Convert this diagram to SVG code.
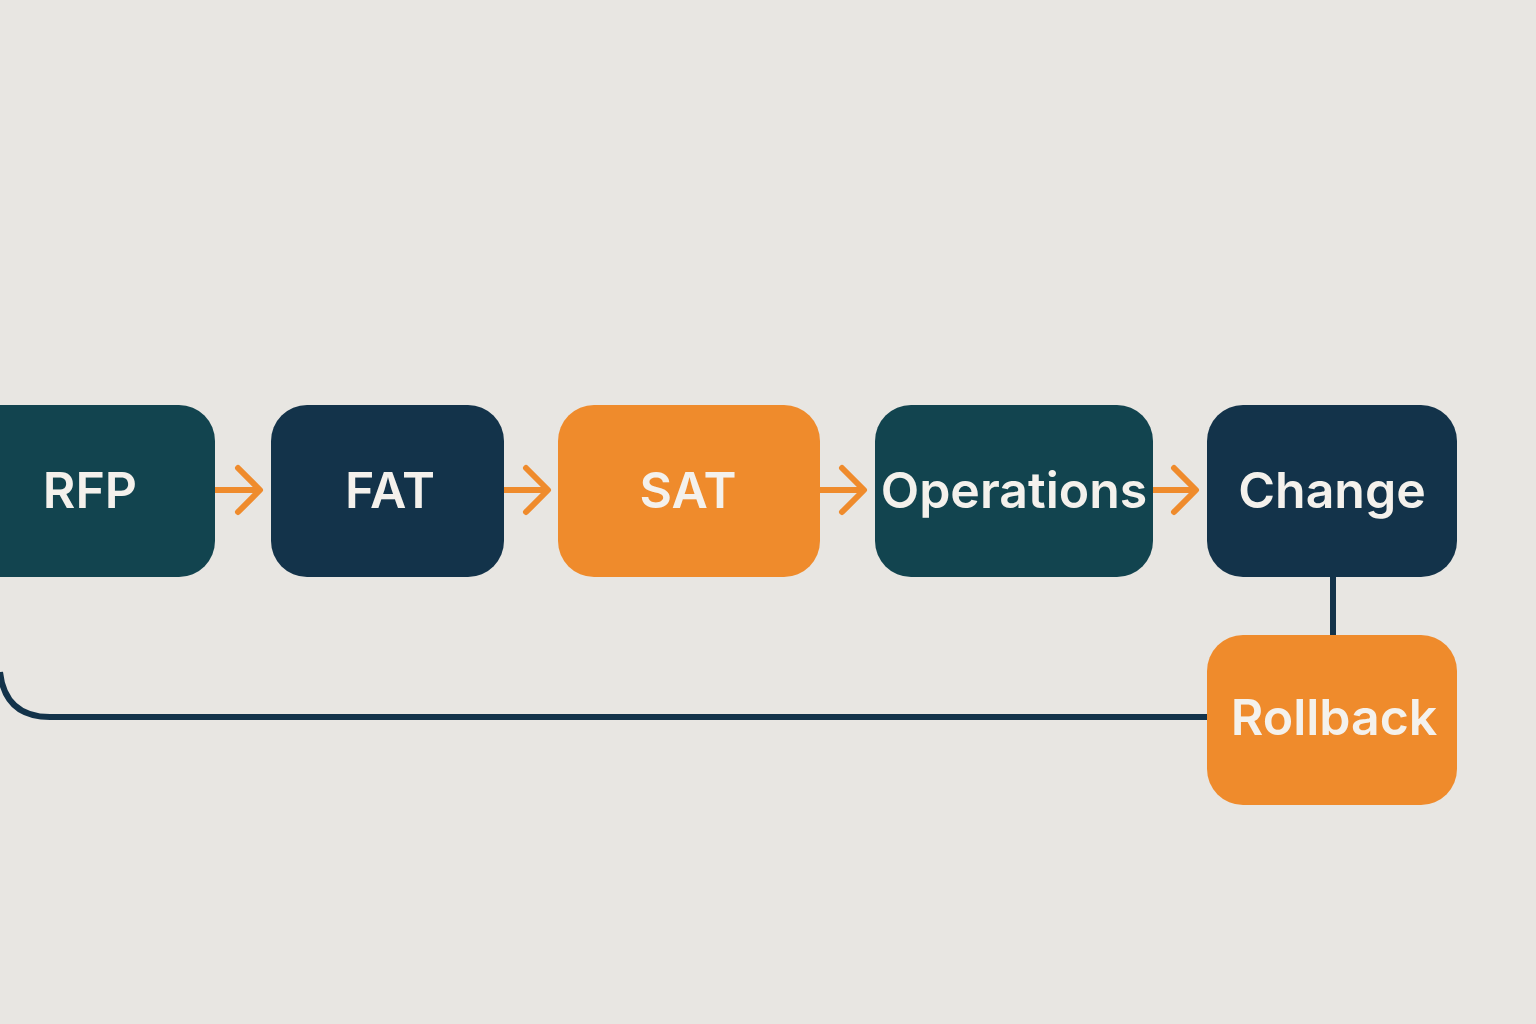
<svg xmlns="http://www.w3.org/2000/svg" width="1536" height="1024" viewBox="0 0 1536 1024">
<style>
.t{fill:#f4f1ec;font-family:Inter,"Noto Sans",sans-serif;font-weight:600;font-size:50px;text-anchor:middle;dominant-baseline:central}
.teal{fill:#12444f}.navy{fill:#13334a}.orange{fill:#ef8b2c}
.arr{stroke:#ef8b2c;stroke-width:6;fill:none;stroke-linecap:round;stroke-linejoin:round}
.ln{stroke:#13334a;stroke-width:6;fill:none}
</style>
<rect width="1536" height="1024" fill="#e8e6e2"/>
<g id="connectors">
<path class="arr" d="M215 490H258M238 468L260 490L238 512"/>
<path class="arr" d="M504 490H546M526 468L548 490L526 512"/>
<path class="arr" d="M820 490H862M842 468L864 490L842 512"/>
<path class="arr" d="M1153 490H1194M1174 468L1196 490L1174 512"/>
<path class="ln" d="M1333 577V635"/>
<path class="ln" d="M1207 717H50Q5 717 0 672"/>
</g>
<g id="rfp"><rect class="teal" x="-40" y="405" width="255" height="172" rx="36"/><text class="t" x="90" y="490">RFP</text></g>
<g id="fat"><rect class="navy" x="271" y="405" width="233" height="172" rx="36"/><text class="t" x="390" y="490">FAT</text></g>
<g id="sat"><rect class="orange" x="558" y="405" width="262" height="172" rx="36"/><text class="t" x="688" y="490">SAT</text></g>
<g id="operations"><rect class="teal" x="875" y="405" width="278" height="172" rx="36"/><text class="t" x="1014" y="490">Operations</text></g>
<g id="change"><rect class="navy" x="1207" y="405" width="250" height="172" rx="36"/><text class="t" x="1332" y="490">Change</text></g>
<g id="rollback"><rect class="orange" x="1207" y="635" width="250" height="170" rx="36"/><text class="t" x="1334" y="717">Rollback</text></g>
</svg>
